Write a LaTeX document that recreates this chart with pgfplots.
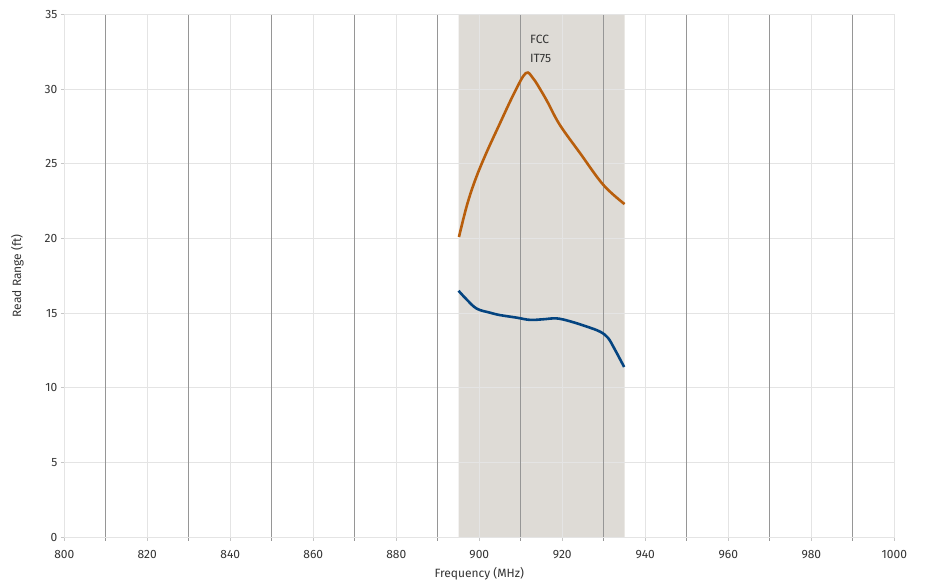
\documentclass[border=0pt]{standalone}
\usepackage{pgfplots}
\pgfplotsset{compat=1.18}
\usepackage{fontspec}
\setmainfont{Fira Sans}
\definecolor{txt}{RGB}{51,51,51}
\definecolor{lightgrid}{RGB}{228,228,228}
\definecolor{darkgrid}{RGB}{150,150,150}
\definecolor{band}{RGB}{222,219,214}
\definecolor{orangeline}{RGB}{184,94,12}
\definecolor{blueline}{RGB}{4,68,128}

\begin{document}
\begin{tikzpicture}
\begin{axis}[
  set layers,
  scale only axis,
  width=830pt, height=523pt,
  xmin=800, xmax=1000, ymin=0, ymax=35,
  xtick={800,820,...,1000},
  ytick={0,5,...,35},
  extra x ticks={810,830,...,990},
  extra x tick labels={},
  extra x tick style={grid=major, major grid style={darkgrid, line width=0.9pt}, tick style={darkgrid, line width=0.9pt}},
  grid=major,
  major grid style={lightgrid, line width=0.8pt},
  axis line style={lightgrid, line width=0.8pt},
  tick style={gray!45, line width=0.8pt},
  tick align=outside,
  major tick length=3.5pt,
  xtick pos=lower, ytick pos=left,
  /pgf/number format/assume math mode=true,
  /pgf/number format/1000 sep=,
  ticklabel style={font=\fontsize{12}{14}\selectfont, text=txt},
  xticklabel style={yshift=-6pt},
  xlabel={Frequency (MHz)},
  ylabel={Read Range (ft)},
  label style={font=\fontsize{12}{14}\selectfont, text=txt},
  xlabel style={yshift=5pt},
  ylabel style={yshift=14pt},
]
\addplot[on layer=axis background, fill=band, draw=none]
  coordinates {(895,0) (935,0) (935,35) (895,35) (895,0)};

\addplot[orangeline, line width=2.6pt, smooth, tension=0.6] coordinates {
  (895.1,20.1) (897.0,22.2) (899.0,23.9) (901.5,25.6) (904.6,27.48) (908.4,29.72)
  (911.2,31.06) (913.0,30.7) (915.0,29.83) (916.6,29.05) (919.4,27.6)
  (924.3,25.7) (929.9,23.58) (935.0,22.3)
};
\addplot[blueline, line width=2.6pt, smooth, tension=0.6] coordinates {
  (895.0,16.5) (897.0,15.9) (899.4,15.3) (902.6,15.03) (905.0,14.87)
  (909.0,14.7) (912.2,14.55) (915.4,14.59) (918.6,14.65) (921.8,14.46)
  (925.9,14.1) (929.1,13.76) (931.0,13.35) (932.6,12.6) (934.9,11.4)
};
\node[anchor=north west, align=left, text=txt, font=\fontsize{12}{19}\selectfont, inner sep=0pt]
  at (axis cs:912.2,33.6) {FCC\\IT75};
\end{axis}
\pgfresetboundingbox
\useasboundingbox (-64.3pt,-46.7pt) rectangle (867.7pt,537.3pt);
\end{tikzpicture}
\end{document}
